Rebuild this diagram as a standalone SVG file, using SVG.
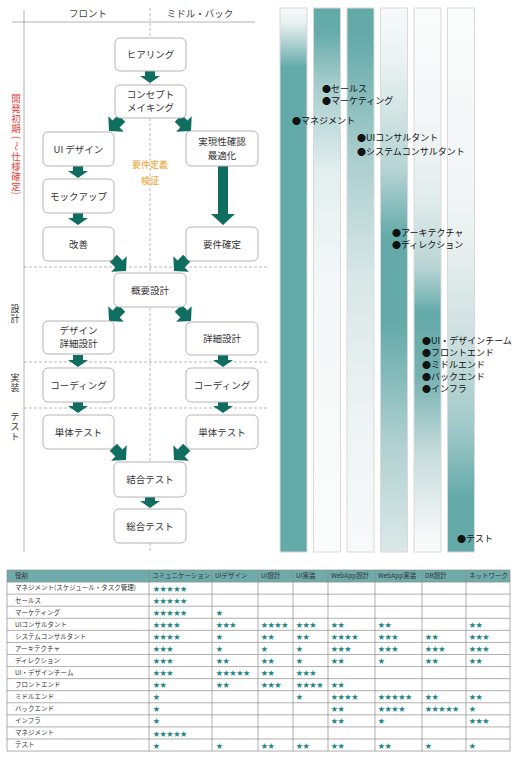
<svg xmlns="http://www.w3.org/2000/svg" xmlns:xlink="http://www.w3.org/1999/xlink" width="520" height="758" viewBox="0 0 520 758">
<style>
text{font-family:"Noto Sans CJK JP","Noto Sans",sans-serif}
.box{fill:#fff;stroke:#b4b4b4;stroke-width:1}
.bt{font-size:9.5px;fill:#333;text-anchor:middle}
.hd{font-size:9.5px;fill:#444;text-anchor:middle}
.vt{font-size:9px;fill:#333;text-anchor:middle}
.red{font-size:9.5px;fill:#e8413d;text-anchor:middle}
.org{font-size:9px;fill:#f0a028;text-anchor:middle}
.arr{fill:#0f6e5f}
.bar{stroke:#d9d9d9;stroke-width:1}
.bl{font-size:9px;fill:#111}
.tt{font-size:6.5px;fill:#333}
.st{font-size:6.8px;fill:#1f8585}
.tl{stroke:#8e8e8e;stroke-width:0.7}
.dash{stroke:#a8a8a8;stroke-width:0.8;stroke-dasharray:3 2;fill:none}
.solid{stroke:#a0a0a0;stroke-width:0.8;fill:none}
</style>
<defs>
<path id="ad" d="M-5,-12 H5 V-7 H10 L0,0 L-10,-7 H-5 Z"/>
<path id="ag" d="M-5,-18 H5 V-10 H11 L0,0 L-11,-10 H-5 Z"/>
<linearGradient id="g1" x1="0" y1="0" x2="0" y2="1"><stop offset="0" stop-color="#f6f9f9"/><stop offset="0.03" stop-color="#e6efef"/><stop offset="0.11" stop-color="#63aaa9"/><stop offset="1" stop-color="#63aaa9"/></linearGradient>
<linearGradient id="g2" x1="0" y1="0" x2="0" y2="1"><stop offset="0" stop-color="#63aaa9"/><stop offset="0.04" stop-color="#63aaa9"/><stop offset="0.14" stop-color="#a6cccc"/><stop offset="0.3" stop-color="#e3eeee"/><stop offset="0.5" stop-color="#f4f7f7"/><stop offset="1" stop-color="#fbfcfc"/></linearGradient>
<linearGradient id="g3" x1="0" y1="0" x2="0" y2="1"><stop offset="0" stop-color="#63aaa9"/><stop offset="0.05" stop-color="#63aaa9"/><stop offset="0.27" stop-color="#a9cdcd"/><stop offset="0.5" stop-color="#d9e7e7"/><stop offset="0.75" stop-color="#eef3f3"/><stop offset="1" stop-color="#f8fafa"/></linearGradient>
<linearGradient id="g4" x1="0" y1="0" x2="0" y2="1"><stop offset="0" stop-color="#f6f9f9"/><stop offset="0.1" stop-color="#eaf2f2"/><stop offset="0.3" stop-color="#b5d3d3"/><stop offset="0.42" stop-color="#63aaa9"/><stop offset="0.58" stop-color="#63aaa9"/><stop offset="0.8" stop-color="#b0d0d0"/><stop offset="1" stop-color="#dce8e8"/></linearGradient>
<linearGradient id="g5" x1="0" y1="0" x2="0" y2="1"><stop offset="0" stop-color="#fafcfc"/><stop offset="0.2" stop-color="#f4f7f7"/><stop offset="0.35" stop-color="#e2ecec"/><stop offset="0.48" stop-color="#b6d3d3"/><stop offset="0.56" stop-color="#63aaa9"/><stop offset="0.68" stop-color="#78b2b2"/><stop offset="0.82" stop-color="#c6dcdc"/><stop offset="0.97" stop-color="#f6f8f8"/><stop offset="1" stop-color="#f8fafa"/></linearGradient>
<linearGradient id="g6" x1="0" y1="0" x2="0" y2="1"><stop offset="0" stop-color="#fbfcfc"/><stop offset="0.35" stop-color="#f1f5f5"/><stop offset="0.48" stop-color="#e2ecec"/><stop offset="0.63" stop-color="#c8dddd"/><stop offset="0.78" stop-color="#9ec7c7"/><stop offset="0.9" stop-color="#63aaa9"/><stop offset="1" stop-color="#63aaa9"/></linearGradient>
</defs>

<rect width="520" height="758" fill="#fff"/>

<!-- Frame / lanes -->
<g id="frame">
<line class="solid" x1="12" y1="22" x2="255" y2="22"/>
<line class="solid" x1="24" y1="10" x2="24" y2="552"/>
<line class="dash" x1="150" y1="8" x2="150" y2="552"/>
<line class="dash" x1="24" y1="267" x2="268" y2="267"/>
<line class="dash" x1="24" y1="362" x2="268" y2="362"/>
<line class="dash" x1="24" y1="408" x2="268" y2="408"/>
<text class="hd" x="88" y="17">フロント</text>
<text class="hd" x="200" y="17">ミドル・バック</text>
</g>
<g id="phase-labels">
<text class="red"><tspan x="16" y="101.5">開</tspan><tspan x="16" y="111.5">発</tspan><tspan x="16" y="121.5">初</tspan><tspan x="16" y="131.5">期</tspan><tspan x="16" y="159.5">仕</tspan><tspan x="16" y="169.5">様</tspan><tspan x="16" y="179.5">確</tspan><tspan x="16" y="189.5">定</tspan></text>
<text class="red" x="16" y="140.3" transform="rotate(90 16 137.5)">(</text>
<text class="red" x="16" y="149.3" transform="rotate(90 16 146)">〜</text>
<text class="red" x="16" y="196" transform="rotate(90 16 193)">)</text>
<text class="vt"><tspan x="15" y="312">設</tspan><tspan x="15" y="322">計</tspan></text>
<text class="vt"><tspan x="15" y="381">実</tspan><tspan x="15" y="391">装</tspan></text>
<text class="vt"><tspan x="15" y="420">テ</tspan><tspan x="15" y="430">ス</tspan><tspan x="15" y="440">ト</tspan></text>
<text class="org" x="150" y="168">要件定義</text>
<text class="org" x="150" y="184">検証</text>
</g>

<!-- Connectors -->
<g id="connectors" class="arr">
<use href="#ad" transform="translate(150,83)"/>
<use href="#ag" transform="translate(109,131) rotate(45)"/>
<use href="#ag" transform="translate(191,131) rotate(-45)"/>
<use href="#ad" transform="translate(78,178)"/>
<use href="#ad" transform="translate(78,225)"/>
<path d="M218,166 H228 V214 H235 L223,225 L211,214 H218 Z"/>
<use href="#ag" transform="translate(126,271) rotate(-45)"/>
<use href="#ag" transform="translate(174,271) rotate(45)"/>
<use href="#ag" transform="translate(109,321) rotate(45)"/>
<use href="#ag" transform="translate(191,321) rotate(-45)"/>
<use href="#ad" transform="translate(78,367)"/>
<use href="#ad" transform="translate(223,367)"/>
<use href="#ad" transform="translate(78,413)"/>
<use href="#ad" transform="translate(223,413)"/>
<use href="#ag" transform="translate(126,460) rotate(-45)"/>
<use href="#ag" transform="translate(174,460) rotate(45)"/>
<use href="#ad" transform="translate(150,508)"/>
</g>

<!-- Nodes -->
<g id="n-hearing"><rect class="box" x="115" y="38" width="71" height="33" rx="5"/><text class="bt" x="150.5" y="58">ヒアリング</text></g>
<g id="n-concept"><rect class="box" x="115" y="85" width="71" height="33" rx="5"/><text class="bt" x="150.5" y="98">コンセプト</text><text class="bt" x="150.5" y="111">メイキング</text></g>
<g id="n-uidesign"><rect class="box" x="43" y="132" width="71" height="34" rx="5"/><text class="bt" x="78.5" y="152.5">UI デザイン</text></g>
<g id="n-feasibility"><rect class="box" x="186" y="131" width="72" height="35" rx="5"/><text class="bt" x="222" y="144.5">実現性確認</text><text class="bt" x="222" y="158.5">最適化</text></g>
<g id="n-mockup"><rect class="box" x="43" y="179" width="71" height="34" rx="5"/><text class="bt" x="78.5" y="199.5">モックアップ</text></g>
<g id="n-kaizen"><rect class="box" x="43" y="227" width="71" height="34" rx="5"/><text class="bt" x="78.5" y="247.5">改善</text></g>
<g id="n-youken"><rect class="box" x="186" y="227" width="72" height="34" rx="5"/><text class="bt" x="222" y="247.5">要件確定</text></g>
<g id="n-gaiyou"><rect class="box" x="114" y="273" width="72" height="34" rx="5"/><text class="bt" x="150" y="293.5">概要設計</text></g>
<g id="n-designdetail"><rect class="box" x="43" y="321" width="71" height="33" rx="5"/><text class="bt" x="78.5" y="333.5">デザイン</text><text class="bt" x="78.5" y="347">詳細設計</text></g>
<g id="n-detail"><rect class="box" x="186" y="322" width="72" height="33" rx="5"/><text class="bt" x="222" y="342">詳細設計</text></g>
<g id="n-codeL"><rect class="box" x="43" y="368" width="71" height="34" rx="5"/><text class="bt" x="78.5" y="388.5">コーディング</text></g>
<g id="n-codeR"><rect class="box" x="186" y="368" width="72" height="34" rx="5"/><text class="bt" x="222" y="388.5">コーディング</text></g>
<g id="n-unitL"><rect class="box" x="43" y="415" width="71" height="34" rx="5"/><text class="bt" x="78.5" y="435.5">単体テスト</text></g>
<g id="n-unitR"><rect class="box" x="186" y="415" width="72" height="34" rx="5"/><text class="bt" x="222" y="435.5">単体テスト</text></g>
<g id="n-integ"><rect class="box" x="114" y="462" width="72" height="35" rx="5"/><text class="bt" x="150" y="483">結合テスト</text></g>
<g id="n-total"><rect class="box" x="114" y="509" width="72" height="34" rx="5"/><text class="bt" x="150" y="529.5">総合テスト</text></g>

<!-- Bars -->
<g id="bars">
<rect class="bar" x="280" y="8" width="27" height="544" fill="url(#g1)"/>
<rect class="bar" x="313.5" y="8" width="27" height="544" fill="url(#g2)"/>
<rect class="bar" x="347" y="8" width="27" height="544" fill="url(#g3)"/>
<rect class="bar" x="380.5" y="8" width="27" height="544" fill="url(#g4)"/>
<rect class="bar" x="414" y="8" width="27" height="544" fill="url(#g5)"/>
<rect class="bar" x="447.5" y="8" width="27" height="544" fill="url(#g6)"/>
</g>
<g id="bar-labels">
<text class="bl" x="322" y="92">●セールス</text>
<text class="bl" x="322" y="104">●マーケティング</text>
<text class="bl" x="292" y="124">●マネジメント</text>
<text class="bl" x="357" y="141">●UIコンサルタント</text>
<text class="bl" x="357" y="155">●システムコンサルタント</text>
<text class="bl" x="392" y="236">●アーキテクチャ</text>
<text class="bl" x="392" y="248">●ディレクション</text>
<text class="bl" x="422" y="344">●UI・デザインチーム</text>
<text class="bl" x="422" y="356">●フロントエンド</text>
<text class="bl" x="422" y="368">●ミドルエンド</text>
<text class="bl" x="422" y="380">●バックエンド</text>
<text class="bl" x="422" y="392">●インフラ</text>
<text class="bl" x="457" y="542">●テスト</text>
</g>

<!-- Table -->
<g id="table">
<rect x="7" y="570" width="503" height="12.07" fill="#6eabaa"/>
<g class="tl">
<line x1="7" y1="570" x2="510" y2="570"/>
<line x1="7" y1="582.07" x2="510" y2="582.07"/>
<line x1="7" y1="594.14" x2="510" y2="594.14"/>
<line x1="7" y1="606.21" x2="510" y2="606.21"/>
<line x1="7" y1="618.28" x2="510" y2="618.28"/>
<line x1="7" y1="630.35" x2="510" y2="630.35"/>
<line x1="7" y1="642.42" x2="510" y2="642.42"/>
<line x1="7" y1="654.49" x2="510" y2="654.49"/>
<line x1="7" y1="666.56" x2="510" y2="666.56"/>
<line x1="7" y1="678.63" x2="510" y2="678.63"/>
<line x1="7" y1="690.7" x2="510" y2="690.7"/>
<line x1="7" y1="702.77" x2="510" y2="702.77"/>
<line x1="7" y1="714.84" x2="510" y2="714.84"/>
<line x1="7" y1="726.91" x2="510" y2="726.91"/>
<line x1="7" y1="738.98" x2="510" y2="738.98"/>
<line x1="7" y1="751.05" x2="510" y2="751.05"/>
<line x1="7" y1="570" x2="7" y2="751.05"/>
<line x1="149" y1="570" x2="149" y2="751.05"/>
<line x1="212" y1="570" x2="212" y2="751.05"/>
<line x1="258" y1="570" x2="258" y2="751.05"/>
<line x1="293" y1="570" x2="293" y2="751.05"/>
<line x1="328" y1="570" x2="328" y2="751.05"/>
<line x1="375" y1="570" x2="375" y2="751.05"/>
<line x1="422" y1="570" x2="422" y2="751.05"/>
<line x1="466" y1="570" x2="466" y2="751.05"/>
<line x1="510" y1="570" x2="510" y2="751.05"/>
</g>
<g class="tt">
<text x="15" y="578.3">役割</text>
<text x="152" y="578.3">コミュニケーション</text>
<text x="215" y="578.3">UIデザイン</text>
<text x="261" y="578.3">UI設計</text>
<text x="296" y="578.3">UI実装</text>
<text x="331" y="578.3">WebApp設計</text>
<text x="378" y="578.3">WebApp実装</text>
<text x="425" y="578.3">DB設計</text>
<text x="469" y="578.3">ネットワーク</text>
<text x="15" y="590.4">マネジメント(スケジュール・タスク管理)</text>
<text x="15" y="602.5">セールス</text>
<text x="15" y="614.5">マーケティング</text>
<text x="15" y="626.6">UIコンサルタント</text>
<text x="15" y="638.7">システムコンサルタント</text>
<text x="15" y="650.8">アーキテクチャ</text>
<text x="15" y="662.8">ディレクション</text>
<text x="15" y="674.9">UI・デザインチーム</text>
<text x="15" y="687">フロントエンド</text>
<text x="15" y="699.1">ミドルエンド</text>
<text x="15" y="711.1">バックエンド</text>
<text x="15" y="723.2">インフラ</text>
<text x="15" y="735.3">マネジメント</text>
<text x="15" y="747.4">テスト</text>
</g>
<g class="st">
<text x="153" y="590.6">★★★★★</text>
<text x="153" y="602.7">★★★★★</text>
<text x="153" y="614.7">★★★★★</text><text x="216" y="614.7">★</text>
<text x="153" y="626.8">★★★★</text><text x="216" y="626.8">★★★</text><text x="261" y="626.8">★★★★</text><text x="296" y="626.8">★★★</text><text x="331" y="626.8">★★</text><text x="378" y="626.8">★★</text><text x="469" y="626.8">★★</text>
<text x="153" y="638.9">★★★★</text><text x="216" y="638.9">★</text><text x="261" y="638.9">★★</text><text x="296" y="638.9">★★</text><text x="331" y="638.9">★★★★</text><text x="378" y="638.9">★★★</text><text x="425" y="638.9">★★</text><text x="469" y="638.9">★★★</text>
<text x="153" y="651">★★★</text><text x="216" y="651">★</text><text x="261" y="651">★</text><text x="296" y="651">★</text><text x="331" y="651">★★★</text><text x="378" y="651">★★★</text><text x="425" y="651">★★★</text><text x="469" y="651">★★★</text>
<text x="153" y="663">★★★</text><text x="216" y="663">★★</text><text x="261" y="663">★★</text><text x="296" y="663">★</text><text x="331" y="663">★★</text><text x="378" y="663">★</text><text x="425" y="663">★★</text><text x="469" y="663">★★</text>
<text x="153" y="675.1">★★★</text><text x="216" y="675.1">★★★★★</text><text x="261" y="675.1">★★</text><text x="296" y="675.1">★★★</text>
<text x="153" y="687.2">★★</text><text x="216" y="687.2">★★</text><text x="261" y="687.2">★★★</text><text x="296" y="687.2">★★★★</text><text x="331" y="687.2">★★</text>
<text x="153" y="699.3">★</text><text x="296" y="699.3">★</text><text x="331" y="699.3">★★★★</text><text x="378" y="699.3">★★★★★</text><text x="425" y="699.3">★★</text><text x="469" y="699.3">★★</text>
<text x="153" y="711.3">★</text><text x="331" y="711.3">★★</text><text x="378" y="711.3">★★★★</text><text x="425" y="711.3">★★★★★</text><text x="469" y="711.3">★</text>
<text x="153" y="723.4">★</text><text x="331" y="723.4">★★</text><text x="378" y="723.4">★</text><text x="469" y="723.4">★★★</text>
<text x="153" y="735.5">★★★★★</text>
<text x="153" y="747.6">★</text><text x="216" y="747.6">★</text><text x="261" y="747.6">★★</text><text x="296" y="747.6">★★</text><text x="331" y="747.6">★★</text><text x="378" y="747.6">★★</text><text x="425" y="747.6">★</text><text x="469" y="747.6">★</text>
</g>
</g>
</svg>
